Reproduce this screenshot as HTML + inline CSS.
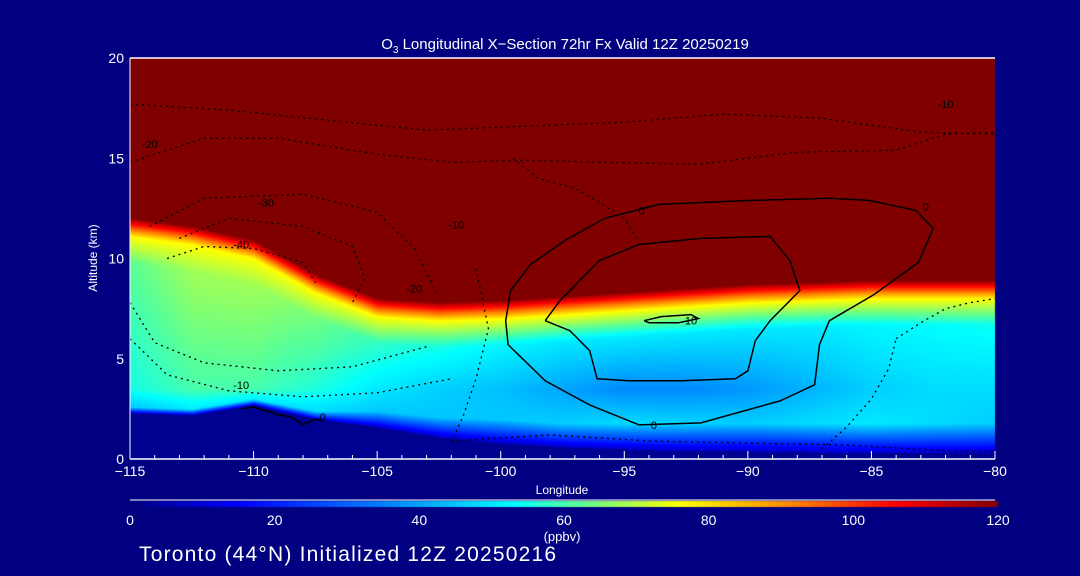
<!DOCTYPE html>
<html><head><meta charset="utf-8">
<style>
html,body{margin:0;padding:0;background:#000080;}
#wrap{position:relative;width:1080px;height:576px;overflow:hidden;background:#000080;font-family:"Liberation Sans",sans-serif;color:#fff;}
canvas{position:absolute;left:0;top:0;}
svg{position:absolute;left:0;top:0;}
</style></head>
<body>
<div id="wrap">
<canvas id="field" width="1080" height="576"></canvas>
<svg id="svg" width="1080" height="576"></svg>
</div>
<script>
// ---- data ----
const lons = [-115,-112.5,-110,-107.5,-105,-102.5,-100,-97.5,-95,-92.5,-90,-87.5,-85,-82.5,-80];
const redBase = [12.0,11.6,10.9,9.2,8.0,7.8,7.9,8.1,8.3,8.5,8.7,8.8,8.9,8.9,8.9];
const midVal = [62,68,68,64,58,55,52,50,50,50,50,50,52,53,54];
const dipVal = [55,60,60,56,50,46,44,40,36,36,38,42,46,48,48];
const lowVal = [45,50,50,48,45,45,45,46,48,47,46,48,50,48,46];
const surf = [2.3,2.2,2.7,2.0,1.6,1.1,0.8,0.6,0.5,0.4,0.4,0.35,0.3,0.3,0.3];
const rampW = [0.3,0.3,0.3,0.4,0.8,1.0,1.2,1.2,1.2,1.2,1.2,1.2,1.2,1.2,1.2];
const xTicks = [-115,-110,-105,-100,-95,-90,-85,-80];
const yTicks = [0,5,10,15,20];
const cbTicks = [0,20,40,60,80,100,120];
const c0Lon = [-99.8,-99.6,-98.8,-97.4,-95.8,-93.6,-89.9,-86.7,-85.1,-83.2,-82.5,-83.1,-84.9,-86.7,-87.1,-87.3,-88.7,-91.9,-94.4,-96.4,-98.2,-99.7,-99.8];
const c0Alt = [6.9,8.4,9.7,10.9,12.0,12.7,12.9,13.0,12.9,12.4,11.5,9.8,8.2,6.9,5.7,3.7,2.9,1.8,1.7,2.7,3.9,5.7,6.9];
const c10Lon = [-98.2,-97.6,-96.0,-94.4,-91.9,-89.1,-88.3,-87.9,-88.3,-89.1,-89.7,-90.0,-90.5,-92.7,-94.8,-96.1,-96.4,-97.2,-98.2];
const c10Alt = [6.9,7.9,9.9,10.7,11.0,11.1,9.9,8.4,7.9,6.9,5.9,4.4,4.0,3.9,3.9,4.0,5.4,6.4,6.9];
const blobLon = [-94.2,-93.5,-92.3,-92.0,-92.8,-94.0,-94.2];
const blobAlt = [6.9,7.1,7.2,7.0,6.8,6.8,6.9];
const terrLon = [-110.5,-110,-109.5,-109,-108.5,-108,-107.5,-107.2];
const terrAlt = [2.5,2.6,2.4,2.2,2.1,1.7,2.0,1.9];
const dotted = [
 {lon:[-115,-111,-107,-103,-99,-95,-91,-87,-83,-80], alt:[17.7,17.4,16.9,16.4,16.6,16.8,17.2,17.0,16.3,16.2]},
 {lon:[-115,-112,-109,-105,-102,-99,-96,-92,-88,-84,-82,-80], alt:[14.8,16.0,16.0,15.2,14.8,14.9,14.8,14.7,15.3,15.4,16.2,16.3]},
 {lon:[-114.2,-112,-108,-105,-103.5,-102.6], alt:[11.6,13.0,13.2,12.3,10.5,8.3]},
 {lon:[-113,-111,-108,-106,-105.5,-106], alt:[11.0,12.0,11.6,10.6,9.0,7.8]},
 {lon:[-113.5,-112,-110,-108,-107.5], alt:[10.0,10.6,10.5,9.8,8.8]},
 {lon:[-115,-114,-112,-109,-106,-103], alt:[7.8,5.8,4.8,4.4,4.6,5.6]},
 {lon:[-115,-113.5,-111,-108,-105,-102], alt:[6.0,4.2,3.4,3.1,3.3,4.0]},
 {lon:[-101,-100.5,-101,-101.5,-102], alt:[9.5,6.5,4.0,2.2,0.8]},
 {lon:[-99.5,-98.5,-97,-96,-95,-94.5], alt:[15.0,14.0,13.5,12.8,12.0,11.0]},
 {lon:[-84,-83,-82,-81,-80], alt:[6.0,6.8,7.5,7.8,8.0]},
 {lon:[-87,-86,-85,-84.3,-84], alt:[0.5,1.6,3.0,4.5,6.0]},
 {lon:[-102,-98,-94,-90,-86,-82,-80], alt:[0.9,1.2,0.9,0.8,0.7,0.4,0.4]}
];
// ---- axes ----
const X0=130,X1=995,Y0=459,Y1=58;
const xs = lon => X0+(lon+115)/35*(X1-X0);
const ys = alt => Y0-alt/20*(Y0-Y1);
function interp(arr, lon){
  let t=(lon-lons[0])/(lons[1]-lons[0]); let i=Math.max(0,Math.min(lons.length-2,Math.floor(t))); let f=Math.max(0,Math.min(1,t-i));
  return arr[i]*(1-f)+arr[i+1]*f;
}
const cstops=[[0,0,0,128],[15,0,0,255],[35,0,130,255],[53,0,255,255],[62,90,255,150],[76,255,255,0],[92,255,128,0],[106,255,0,0],[120,128,0,0]];
function cmap(v){
  v=Math.max(0,Math.min(120,v));
  for(let i=0;i<cstops.length-1;i++){const a=cstops[i],b=cstops[i+1];
    if(v<=b[0]){const f=(v-a[0])/(b[0]-a[0]);return [a[1]+(b[1]-a[1])*f,a[2]+(b[2]-a[2])*f,a[3]+(b[3]-a[3])*f];}}
  return [128,0,0];
}
function lin(z,z0,v0,z1,v1){return v0+(z-z0)/(z1-z0)*(v1-v0);}
function val(lon,z){
  const r=interp(redBase,lon),m=interp(midVal,lon),d=interp(dipVal,lon),l=interp(lowVal,lon),s=interp(surf,lon),w=interp(rampW,lon);
  if(z>=r) return 120;
  if(z<s) return 2;
  const zy=r-0.9, zm=r-2.2;
  if(z>=zy) return lin(z,zy,76,r,118);
  if(z>=zm) return lin(z,zm,m,zy,76);
  if(z>=3.5) return lin(z,3.5,d,zm,m);
  const zl=Math.max(s+w,1.8);
  if(z>=zl) return lin(z,zl,l,3.5,d);
  return lin(z,s,8,zl,l);
}
const ctx=document.getElementById('field').getContext('2d');
const img=ctx.createImageData(X1-X0,Y0-Y1);
for(let py=0;py<Y0-Y1;py++){const z=(Y0-Y1-py)/(Y0-Y1)*20;
  for(let px=0;px<X1-X0;px++){const lon=-115+px/(X1-X0)*35;const c=cmap(val(lon,z));const k=(py*(X1-X0)+px)*4;
    img.data[k]=c[0];img.data[k+1]=c[1];img.data[k+2]=c[2];img.data[k+3]=255;}}
ctx.putImageData(img,X0,Y1);
// colorbar
const cb=ctx.createImageData(868,6);
for(let px=0;px<868;px++){const c=cmap(px/868*120);for(let py=0;py<6;py++){const k=(py*868+px)*4;cb.data[k]=c[0];cb.data[k+1]=c[1];cb.data[k+2]=c[2];cb.data[k+3]=255;}}
ctx.putImageData(cb,130,501);
// ---- svg ----
const NS='http://www.w3.org/2000/svg';const svg=document.getElementById('svg');
function mk(tag,attrs,txt){const e=document.createElementNS(NS,tag);for(const k in attrs)e.setAttribute(k,attrs[k]);if(txt!==undefined)e.textContent=txt;svg.appendChild(e);return e;}
function pathFrom(lonA,altA){return lonA.map((l,i)=>(i?'L':'M')+xs(l).toFixed(1)+','+ys(altA[i]).toFixed(1)).join(' ');}
dotted.forEach((c,i)=>{const e=mk('path',{d:pathFrom(c.lon,c.alt),fill:'none',stroke:'#000','stroke-width':1.3,'stroke-dasharray':'2,4'});

});
let e;
e=mk('path',{d:pathFrom(terrLon,terrAlt),fill:'none',stroke:'#000','stroke-width':1.5});


e=mk('path',{d:pathFrom(c0Lon,c0Alt),fill:'none',stroke:'#000','stroke-width':1.5});


e=mk('path',{d:pathFrom(c10Lon,c10Alt),fill:'none',stroke:'#000','stroke-width':1.5});


e=mk('path',{d:pathFrom(blobLon,blobAlt),fill:'none',stroke:'#000','stroke-width':1.5});


const lbls=[[-94.3,12.2,'0'],[-82.8,12.4,'0'],[-92.3,6.7,'10'],[-93.8,1.5,'0'],[-110.5,10.5,'-40'],[-109.5,12.6,'-30'],[-114.2,15.5,'-20'],[-101.8,11.5,'-10'],[-103.5,8.3,'-20'],[-110.5,3.5,'-10'],[-82,17.5,'-10'],[-107.2,1.9,'0']];
lbls.forEach((l,i)=>{e=mk('text',{x:xs(l[0]),y:ys(l[1]),'font-size':11,fill:'#000','text-anchor':'middle','font-family':'Liberation Sans, sans-serif'},l[2]);

});
// frame
e=mk('line',{x1:X0,y1:Y1,x2:X1,y2:Y1,stroke:'#fff','stroke-width':1.5});


e=mk('line',{x1:X0,y1:Y0,x2:X1,y2:Y0,stroke:'#fff','stroke-width':1.5});


e=mk('line',{x1:X0,y1:Y1,x2:X0,y2:Y0,stroke:'#fff','stroke-width':1});


for(let l=-115;l<=-80;l++){const big=(l%5===0);e=mk('line',{x1:xs(l),y1:Y0,x2:xs(l),y2:Y0-(big?8:4),stroke:'#fff','stroke-width':1});

}
xTicks.forEach(l=>{e=mk('text',{x:xs(l),y:Y0+17,'font-size':14,fill:'#fff','text-anchor':'middle'},l<0?'\u2212'+(-l):String(l));

});
yTicks.forEach(a=>{e=mk('text',{x:X0-6,y:ys(a)+5,'font-size':14,fill:'#fff','text-anchor':'end'},String(a));

});
e=mk('text',{x:562,y:494,'font-size':12,fill:'#fff','text-anchor':'middle'},'Longitude');


e=mk('text',{x:97,y:258,'font-size':12,fill:'#fff','text-anchor':'middle',transform:'rotate(-90 97 258)'},'Altitude (km)');


e=mk('text',{x:565,y:49,'font-size':15,fill:'#fff','text-anchor':'middle'},'');


e.innerHTML='O<tspan font-size="10" dy="4">3</tspan><tspan dy="-4"> Longitudinal X\u2212Section 72hr  Fx Valid 12Z 20250219</tspan>';
// colorbar
e=mk('line',{x1:130,y1:500,x2:995,y2:500,stroke:'#fff','stroke-width':1});


cbTicks.forEach(v=>{e=mk('text',{x:130+v/120*868,y:525,'font-size':14,fill:'#fff','text-anchor':'middle'},String(v));

});
e=mk('text',{x:562,y:541,'font-size':13,fill:'#fff','text-anchor':'middle'},'(ppbv)');


e=mk('text',{x:139,y:561,'font-size':21,fill:'#fff','letter-spacing':'1.2'},'Toronto (44\u00b0N) Initialized 12Z 20250216');


</script>
</body></html>
